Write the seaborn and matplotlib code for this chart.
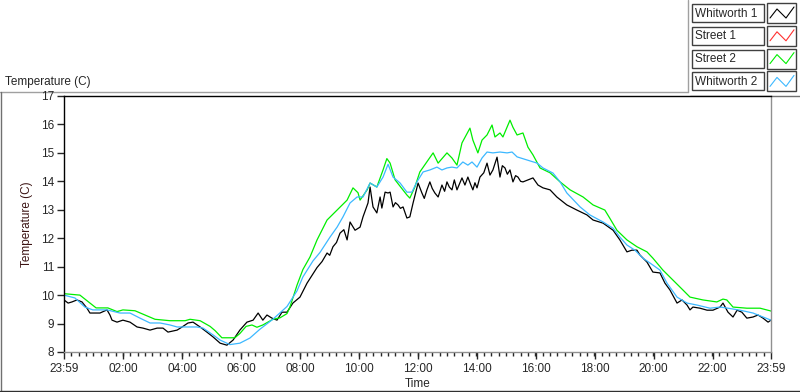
import pandas as pd
import seaborn as sns
import matplotlib.pyplot as plt
from matplotlib.patches import Rectangle
from matplotlib.ticker import FixedLocator

# hours after 23:59 and temperature (C) per logger
w1_hours = [0, 0.14, 0.27, 0.44, 0.61, 0.78, 0.88, 1.22, 1.46, 1.56, 1.63, 1.80, 2.00, 2.24, 2.48,
            2.68, 2.92, 3.16, 3.36, 3.53, 3.84, 4.01, 4.21, 4.38, 4.62, 4.85, 5.06, 5.30, 5.53, 5.74,
            5.97, 6.21, 6.42, 6.59, 6.75, 6.89, 7.06, 7.23, 7.40, 7.57, 7.77, 8.01, 8.25, 8.59, 8.76,
            8.93, 9.02, 9.13, 9.25, 9.37, 9.50, 9.61, 9.71, 9.88, 10.05, 10.15, 10.32, 10.39, 10.49,
            10.62, 10.73, 10.79, 10.90, 11.00, 11.07, 11.17, 11.25, 11.34, 11.42, 11.51, 11.64, 11.74,
            11.85, 12.02, 12.15, 12.23, 12.32, 12.42, 12.50, 12.59, 12.70, 12.83, 12.92, 13.00, 13.08,
            13.17, 13.25, 13.34, 13.42, 13.51, 13.61, 13.71, 13.80, 13.88, 13.95, 14.02, 14.12, 14.25,
            14.36, 14.46, 14.56, 14.70, 14.80, 14.88, 14.97, 15.05, 15.14, 15.24, 15.33, 15.41, 15.50,
            15.58, 15.75, 15.92, 16.09, 16.26, 16.50, 16.73, 17.07, 17.41, 17.75, 17.96, 18.30, 18.64,
            18.87, 19.11, 19.28, 19.45, 19.55, 19.79, 19.99, 20.23, 20.40, 20.57, 20.81, 20.98, 21.15,
            21.25, 21.35, 21.59, 21.83, 22.03, 22.27, 22.37, 22.54, 22.71, 22.85, 23.01, 23.18,
            23.39, 23.56, 23.73, 23.90, 24.0]
w1_temp = [9.83, 9.72, 9.76, 9.83, 9.76, 9.54, 9.37, 9.37, 9.48, 9.30, 9.12, 9.05, 9.12, 9.05, 8.88,
           8.84, 8.77, 8.84, 8.84, 8.70, 8.77, 8.88, 9.02, 9.05, 8.88, 8.70, 8.53, 8.31, 8.24, 8.42,
           8.77, 9.05, 9.12, 9.37, 9.12, 9.30, 9.19, 9.12, 9.40, 9.40, 9.72, 9.93, 10.42, 10.97, 11.18,
           11.48, 11.40, 11.70, 11.85, 12.18, 12.30, 11.94, 12.57, 12.28, 12.39, 12.75, 13.24, 13.80,
           13.10, 12.89, 13.45, 13.06, 13.62, 13.59, 13.62, 13.10, 13.25, 13.17, 13.05, 13.10, 12.71,
           12.75, 13.24, 13.94, 13.59, 13.40, 13.70, 13.98, 13.75, 13.59, 13.45, 13.87, 13.65, 13.98,
           13.80, 13.70, 14.05, 13.70, 13.90, 14.12, 13.87, 14.15, 13.90, 13.70, 13.95, 13.77, 14.15,
           14.30, 14.64, 14.22, 14.40, 14.85, 14.15, 14.55, 14.47, 14.25, 14.40, 13.98, 14.20, 14.15,
           14.00, 13.98, 14.05, 14.12, 13.87, 13.77, 13.70, 13.45, 13.17, 12.99, 12.82, 12.64, 12.53,
           12.28, 11.94, 11.52, 11.58, 11.58, 11.41, 11.16, 10.81, 10.78, 10.42, 10.18, 9.72, 9.83,
           9.65, 9.48, 9.58, 9.54, 9.47, 9.47, 9.58, 9.72, 9.40, 9.23, 9.47, 9.40, 9.19,
           9.23, 9.30, 9.19, 9.05, 9.12]

s2_hours = [0, 0.54, 1.09, 1.49, 1.80, 2.00, 2.41, 2.75, 3.09, 3.60, 4.11, 4.28, 4.62, 4.96, 5.13,
            5.36, 5.80, 5.97, 6.18, 6.38, 6.55, 6.75, 7.09, 7.33, 7.57, 7.67, 7.91, 8.11, 8.35, 8.59,
            8.93, 9.27, 9.61, 9.81, 9.98, 10.05, 10.29, 10.39, 10.62, 10.83, 10.96, 11.07, 11.24,
            11.64, 11.74, 11.91, 12.08, 12.53, 12.70, 13.00, 13.17, 13.34, 13.51, 13.78, 13.88,
            14.05, 14.19, 14.36, 14.53, 14.63, 14.80, 14.90, 15.14, 15.24, 15.38, 15.58, 15.75,
            15.92, 16.16, 16.50, 16.84, 17.18, 17.62, 17.96, 18.36, 18.53, 18.77, 19.11, 19.45,
            19.79, 19.99, 20.33, 20.67, 21.01, 21.25, 21.69, 22.16, 22.37, 22.50, 22.71, 23.18,
            23.63, 24.0]
s2_temp = [10.05, 10.0, 9.55, 9.55, 9.42, 9.48, 9.45, 9.30, 9.15, 9.10, 9.10, 9.15, 9.10, 8.90, 8.75,
           8.50, 8.50, 8.65, 8.90, 8.95, 8.87, 8.95, 9.15, 9.20, 9.35, 9.58, 10.35, 10.90, 11.34, 11.94,
           12.64, 12.99, 13.34, 13.77, 13.60, 13.34, 13.70, 13.94, 13.80, 14.40, 14.80, 14.64, 14.05,
           13.52, 13.41, 13.80, 14.33, 15.00, 14.64, 15.00, 14.82, 14.57, 15.35, 15.87, 15.45,
           15.00, 15.45, 15.63, 15.98, 15.56, 15.70, 15.56, 16.15, 15.90, 15.63, 15.70, 15.20,
           14.93, 14.47, 14.30, 13.98, 13.70, 13.45, 13.17, 12.99, 12.70, 12.28, 11.94, 11.70,
           11.52, 11.30, 10.88, 10.53, 10.18, 9.93, 9.83, 9.76, 9.86, 9.83, 9.58, 9.54,
           9.54, 9.44]

w2_hours = [0, 0.37, 0.71, 0.98, 1.46, 1.90, 2.24, 2.58, 2.92, 3.26, 3.60, 3.84, 4.51, 4.72, 5.06,
            5.30, 5.63, 5.97, 6.31, 6.65, 7.09, 7.57, 7.91, 8.11, 8.45, 8.69, 9.03, 9.27, 9.47, 9.71,
            9.95, 10.15, 10.39, 10.62, 10.83, 11.00, 11.17, 11.41, 11.64, 11.81, 11.98, 12.19, 12.42,
            12.66, 12.83, 13.00, 13.17, 13.34, 13.54, 13.71, 13.85, 14.02, 14.19, 14.36, 14.56,
            14.80, 15.04, 15.21, 15.38, 15.72, 16.06, 16.26, 16.60, 16.84, 17.07, 17.52, 17.85,
            18.30, 18.64, 18.87, 19.11, 19.38, 19.65, 19.89, 20.23, 20.47, 20.81, 21.15, 21.49,
            21.93, 22.27, 22.54, 22.95, 23.39, 23.73, 24.0]
w2_temp = [10.0, 9.90, 9.58, 9.48, 9.48, 9.37, 9.37, 9.19, 9.02, 9.02, 8.95, 8.88, 8.88, 8.84, 8.60,
           8.42, 8.26, 8.31, 8.49, 8.80, 9.15, 9.60, 10.15, 10.64, 11.20, 11.50, 12.04, 12.39, 12.75,
           13.24, 13.45, 13.45, 13.94, 13.80, 14.15, 14.60, 14.15, 13.94, 13.62, 13.62, 13.98, 14.33,
           14.40, 14.50, 14.40, 14.47, 14.50, 14.47, 14.68, 14.57, 14.68, 14.50, 14.82, 15.03,
           15.00, 15.03, 15.00, 15.03, 14.86, 14.75, 14.64, 14.47, 14.29, 13.98, 13.59, 13.10,
           12.82, 12.57, 12.35, 12.04, 11.76, 11.58, 11.30, 11.13, 10.88, 10.42, 9.93, 9.72,
           9.65, 9.54, 9.58, 9.54, 9.47, 9.37, 9.23, 9.12]

series_names = ['Whitworth 1', 'Street 1', 'Street 2', 'Whitworth 2']
series_colors = ['#000000', '#ff3030', '#00ee00', '#3cb8ff']
tick_labels = ['23:59', '02:00', '04:00', '06:00', '08:00', '10:00', '12:00',
               '14:00', '16:00', '18:00', '20:00', '22:00', '23:59']

df = pd.concat([
    pd.DataFrame({'hours': w1_hours, 'temp': w1_temp, 'series': 'Whitworth 1'}),
    pd.DataFrame({'hours': s2_hours, 'temp': s2_temp, 'series': 'Street 2'}),
    pd.DataFrame({'hours': w2_hours, 'temp': w2_temp, 'series': 'Whitworth 2'}),
])

sns.set_style('white')
plt.rcParams['font.family'] = ['Liberation Sans', 'DejaVu Sans']

W, H = 800, 392
fig = plt.figure(figsize=(W / 100, H / 100), dpi=100)

# full-figure overlay in pixel units for the panel frame and the legend
bg = fig.add_axes([0, 0, 1, 1], zorder=0)
bg.set_xlim(0, W)
bg.set_ylim(H, 0)
bg.axis('off')
bg.plot([0, 688], [92, 92], color='#a0a0a0', lw=1)
bg.plot([688, 688], [0, 92], color='#a0a0a0', lw=1)
bg.plot([690, 800], [95.5, 95.5], color='#707070', lw=1)
bg.plot([0.5, 0.5], [92, 392], color='#707070', lw=1)
bg.plot([0, 800], [391, 391], color='#303030', lw=1)
bg.text(5, 82, 'Temperature (C)', fontsize=8.5, va='center', ha='left')

palette = dict(zip(series_names, series_colors))
for i, (name, col) in enumerate(zip(series_names, series_colors)):
    yc = 13 + i * 22.8
    bg.add_patch(Rectangle((692, yc - 9), 72, 18, facecolor='white', edgecolor='#404040', lw=1))
    bg.add_patch(Rectangle((767, yc - 10), 29, 20, facecolor='white', edgecolor='#404040', lw=1))
    bg.text(695, yc + 0.5, name, fontsize=8.5, va='center', ha='left')
    bg.plot([770, 777, 786, 794], [yc + 5, yc - 4, yc + 5, yc - 6], color=col, lw=0.8)

ax = fig.add_axes([64 / W, 1 - 352 / H, (771 - 64) / W, (352 - 96) / H], zorder=1)
sns.lineplot(data=df, x='hours', y='temp', hue='series', palette=palette,
             estimator=None, legend=False, lw=0.9, ax=ax)

ax.set_xlim(0, 24)
ax.set_ylim(8, 17)
major = [0] + [h + 1 / 60 for h in range(2, 24, 2)] + [24]
ax.xaxis.set_major_locator(FixedLocator(major))
ax.set_xticklabels(tick_labels)
ax.xaxis.set_minor_locator(FixedLocator([k * 0.25 for k in range(97)]))
ax.set_yticks(range(8, 18))
ax.tick_params(axis='x', which='major', length=5, width=1, pad=3, labelsize=8.5, bottom=True)
ax.tick_params(axis='x', which='minor', length=3, width=1, bottom=True)
ax.tick_params(axis='y', length=5, width=1, pad=2, labelsize=8.5, left=True)
ax.set_xlabel('Time', fontsize=8.5, labelpad=2)
ax.set_ylabel('Temperature (C)', fontsize=8.5, color='#3c1414', labelpad=6)
for side, col in [('left', 'black'), ('top', 'black'), ('right', '#909090'), ('bottom', '#909090')]:
    ax.spines[side].set_visible(True)
    ax.spines[side].set_color(col)
    ax.spines[side].set_linewidth(1)

fig.savefig('out.png', dpi=100)
